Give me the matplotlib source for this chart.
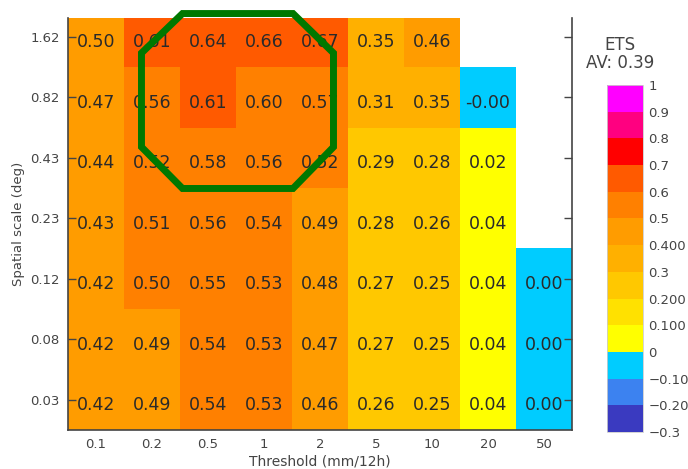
import numpy as np
import matplotlib
matplotlib.use('Agg')
import matplotlib.pyplot as plt
from matplotlib.colors import ListedColormap, BoundaryNorm
from matplotlib.patches import Polygon
import matplotlib.cm as cm

# Soglie (colonne) e scale spaziali (righe, dal basso verso l'alto)
soglie = ['0.1', '0.2', '0.5', '1', '2', '5', '10', '20', '50']
scale = ['0.03', '0.08', '0.12', '0.23', '0.43', '0.82', '1.62']

# Valori ETS, una lista per scala spaziale (NaN = cella vuota)
ets_003 = [0.42, 0.49, 0.54, 0.53, 0.46, 0.26, 0.25, 0.04, 0.00]
ets_008 = [0.42, 0.49, 0.54, 0.53, 0.47, 0.27, 0.25, 0.04, 0.00]
ets_012 = [0.42, 0.502, 0.55, 0.53, 0.48, 0.27, 0.25, 0.04, 0.00]
ets_023 = [0.43, 0.51, 0.56, 0.54, 0.49, 0.28, 0.26, 0.04, np.nan]
ets_043 = [0.44, 0.52, 0.58, 0.56, 0.52, 0.29, 0.28, 0.02, np.nan]
ets_082 = [0.47, 0.56, 0.61, 0.60, 0.57, 0.31, 0.35, -0.001, np.nan]
ets_162 = [0.50, 0.61, 0.64, 0.66, 0.67, 0.35, 0.46, np.nan, np.nan]
ets_media = 0.39

# Scala colori a livelli
livelli = np.round(np.arange(-0.3, 1.001, 0.1), 2)
colori = ['#3a3ac0', '#3c82f0', '#00ccff', '#ffff00', '#ffe100', '#ffc800',
          '#ffb000', '#ff9c00', '#ff8000', '#ff5a00', '#ff0000', '#ff0080',
          '#ff00ff']
etichette_cb = ['\u22120.3', '\u22120.200', '\u22120.100', '0', '0.100', '0.200',
                '0.3', '0.400', '0.5', '0.6', '0.7', '0.8', '0.9', '1']


def heatmap_ets():
    dati = np.array([ets_003, ets_008, ets_012, ets_023, ets_043, ets_082, ets_162])
    dati = np.ma.masked_invalid(dati)

    cmap = ListedColormap(colori)
    cmap.set_bad('white')
    # intervalli chiusi a destra (0.50 -> classe 0.4-0.5, 0.00 -> classe -0.1-0)
    norm = BoundaryNorm(livelli + 1e-6, cmap.N)

    fig = plt.figure(figsize=(6.88, 4.69), dpi=100)
    ax = fig.add_axes([0.0988, 0.0832, 0.7326, 0.8784])

    ax.pcolormesh(np.arange(len(soglie) + 1), np.arange(len(scale) + 1), dati,
                  cmap=cmap, norm=norm, shading='flat')
    ax.set_xlim(0, len(soglie))
    ax.set_ylim(0, 6.81)

    # Valori nelle celle
    for r in range(dati.shape[0]):
        for c in range(dati.shape[1]):
            if dati.mask[r, c]:
                continue
            ax.annotate('%.2f' % dati[r, c], (c + 0.5, r + 0.5),
                        xytext=(0, -4), textcoords='offset points',
                        ha='center', va='center', fontsize=12.5, color='#2a2a2a')

    # Assi
    ax.set_xticks(np.arange(len(soglie)) + 0.5)
    ax.set_xticklabels(soglie, fontsize=9.5, color='#444444')
    ax.set_yticks(np.arange(len(scale)) + 0.5)
    ax.set_yticklabels(scale, fontsize=9.5, color='#444444')
    ax.tick_params(axis='both', length=0, pad=6)
    ax.tick_params(axis='y', right=True, direction='in', length=6, width=1,
                   color='#444444')
    ax.set_xlabel('Threshold (mm/12h)', fontsize=10, color='#444444', labelpad=2)
    ax.set_ylabel('Spatial scale (deg)', fontsize=9.5, color='#444444', labelpad=4)
    ax.spines['top'].set_visible(False)
    for s in ['left', 'right', 'bottom']:
        ax.spines[s].set_color('#444444')
        ax.spines[s].set_linewidth(1.2)

    # Evidenziazione ottagonale
    ottagono = [(2.045, 6.884), (4.018, 6.884), (4.741, 6.231), (4.741, 4.678),
                (4.018, 3.992), (2.045, 3.992), (1.3125, 4.678), (1.3125, 6.231)]
    ax.add_patch(Polygon(ottagono, closed=True, fill=False, edgecolor='#007800',
                         linewidth=5, joinstyle='miter', clip_on=False, zorder=10))

    # Barra colori
    cax = fig.add_axes([0.882, 0.0789, 0.0523, 0.7399])
    sm = cm.ScalarMappable(norm=BoundaryNorm(livelli, cmap.N), cmap=cmap)
    cb = fig.colorbar(sm, cax=cax, ticks=livelli)
    cb.ax.set_yticklabels(etichette_cb, fontsize=9.5, color='#444444')
    cb.ax.tick_params(length=0, pad=4)
    cb.outline.set_edgecolor('#cccccc')
    cb.outline.set_linewidth(0.6)

    fig.text(0.901, 1 - 45 / 469, 'ETS', ha='center', va='center',
             fontsize=12, color='#444444')
    fig.text(0.901, 1 - 63 / 469, 'AV: %.2f' % ets_media, ha='center',
             va='center', fontsize=12, color='#444444')

    plt.savefig('out.png', dpi=100)


heatmap_ets()
